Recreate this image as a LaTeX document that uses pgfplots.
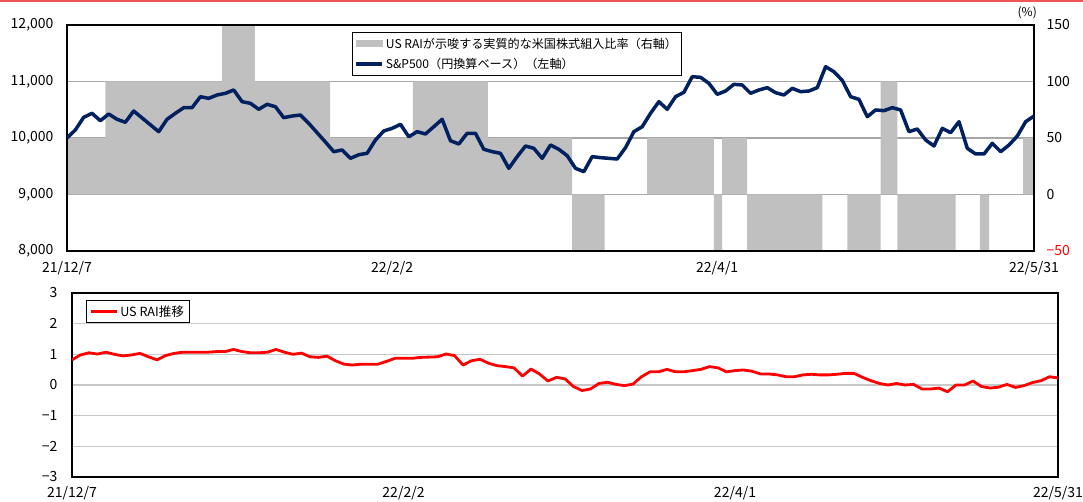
\documentclass[border=0pt]{standalone}
\usepackage{pgfplots}
\pgfplotsset{compat=1.18}
\usepackage{fontspec}
\setmainfont{Noto Sans CJK JP}
\definecolor{navy}{HTML}{002060}
\definecolor{bargray}{HTML}{C0C0C0}
\definecolor{gridgray}{HTML}{A6A6A6}
\definecolor{gridlight}{HTML}{C8C8C8}
\definecolor{topred}{HTML}{F25555}
\pgfplotsset{shortline/.style={legend image code/.code={\draw[##1] (0pt,0pt) -- (26pt,0pt);}}}
\begin{document}
\begin{tikzpicture}[x=1pt,y=1pt]
\useasboundingbox (0,0) rectangle (1083,501);
\fill[topred] (0,499) rectangle (1083,501);

% ---------- top panel: right axis (bars) ----------
\begin{axis}[
  at={(67pt,250pt)}, anchor=south west, scale only axis,
  width=967pt, height=226pt,
  xmin=0, xmax=116, ymin=-50, ymax=150,
  axis x line=none, axis y line*=right,
  ytick={-50,0,50,100,150},
  yticklabels={\textcolor{red}{−50},0,50,100,150},
  ymajorgrids, grid style={gridgray, line width=1.2pt},
  major tick length=0pt,
  yticklabel style={font=\fontsize{14}{16}\selectfont, xshift=9pt, anchor=west},
  axis line style={line width=1.2pt, black},
  clip=false,
]
\addplot[ybar interval, fill=bargray, draw=none] coordinates {
(0,50) (4.6,100) (18.6,150) (22.55,100) (31.55,50) (41.5,100) (50.5,50)
(60.6,-50) (64.5,0) (69.6,50) (77.6,-50) (78.6,50) (81.6,-50) (90.6,0)
(93.6,-50) (97.6,100) (99.6,-50) (106.6,0) (109.5,-50) (110.6,0) (114.7,50) (116,50)
};
\node[anchor=south, font=\fontsize{12}{14}\selectfont, inner sep=0pt] at (rel axis cs:0.993,1.025) {(\%)};
\end{axis}

% ---------- top panel: left axis (line) ----------
\begin{axis}[
  at={(67pt,250pt)}, anchor=south west, scale only axis,
  width=967pt, height=226pt,
  xmin=0, xmax=116, ymin=8000, ymax=12000,
  scaled y ticks=false,
  ytick={8000,9000,10000,11000,12000},
  yticklabels={{8,000},{9,000},{10,000},{11,000},{12,000}},
  xtick={0,39,78,116},
  xticklabels={21/12/7,22/2/2,22/4/1,22/5/31},
  major tick length=0pt,
  yticklabel style={font=\fontsize{14}{16}\selectfont, xshift=-10pt},
  xticklabel style={font=\fontsize{14}{16}\selectfont, yshift=-7pt},
  axis line style={line width=1.2pt, black},
  legend style={at={(0.2947,0.969)}, anchor=north west, draw=black, line width=0.9pt,
    font=\fontsize{12.1}{14}\selectfont, inner xsep=2pt, inner ysep=3.5pt, row sep=4.5pt,
    legend cell align=left},
]
\addlegendimage{legend image code/.code={\fill[bargray] (0pt,-3pt) rectangle (26pt,3pt);}}
\addlegendentry{US RAIが示唆する実質的な米国株式組入比率（右軸）}
\addplot[navy, line width=3.5pt, line join=round, shortline] coordinates {
(0,10000) (1,10142) (2,10366) (3,10437) (4,10306) (5,10425) (6,10331) (7,10278)
(8,10478) (9,10356) (10,10234) (11,10112) (12,10331) (13,10437) (14,10536) (15,10536)
(16,10731) (17,10702) (18,10761) (19,10791) (20,10850) (21,10643) (22,10614) (23,10508)
(24,10596) (25,10554) (26,10360) (27,10389) (28,10407) (29,10260) (30,10094) (31,9929)
(32,9758) (33,9788) (34,9640) (35,9704) (36,9729) (37,9965) (38,10124) (39,10171)
(40,10242) (41,10023) (42,10112) (43,10071) (44,10200) (45,10331) (46,9952) (47,9894)
(48,10083) (49,10083) (50,9800) (51,9758) (52,9729) (53,9463) (54,9670) (55,9858)
(56,9817) (57,9640) (58,9876) (59,9800) (60,9687) (61,9463) (62,9404) (63,9670)
(64,9652) (65,9640) (66,9628) (67,9829) (68,10112) (69,10200) (70,10437) (71,10643)
(72,10508) (73,10731) (74,10809) (75,11085) (76,11074) (77,10968) (78,10773) (79,10832)
(80,10950) (81,10938) (82,10791) (83,10850) (84,10891) (85,10802) (86,10761) (87,10879)
(88,10820) (89,10832) (90,10891) (91,11262) (92,11173) (93,11020) (94,10731) (95,10684)
(96,10377) (97,10496) (98,10484) (99,10537) (100,10496) (101,10112) (102,10159) (103,9965)
(104,9858) (105,10171) (106,10094) (107,10289) (108,9817) (109,9717) (110,9717) (111,9906)
(112,9758) (113,9876) (114,10035) (115,10289) (116,10389)
};
\addlegendentry{S\&P500（円換算ベース）（左軸）}
\end{axis}

% ---------- bottom panel ----------
\begin{axis}[
  at={(72pt,24pt)}, anchor=south west, scale only axis,
  width=986pt, height=184pt,
  xmin=0, xmax=116, ymin=-3, ymax=3,
  ytick={-3,-2,-1,0,1,2,3},
  yticklabels={−3,−2,−1,0,1,2,3},
  xtick={0,39,78,116},
  xticklabels={21/12/7,22/2/2,22/4/1,22/5/31},
  ymajorgrids, grid style={gridlight, line width=1.4pt},
  major tick length=0pt,
  yticklabel style={font=\fontsize{14}{16}\selectfont, xshift=-11pt},
  xticklabel style={font=\fontsize{14}{16}\selectfont, yshift=-6pt},
  axis line style={line width=1.6pt, black},
  legend style={at={(0.0142,0.962)}, anchor=north west, draw=black, line width=0.9pt,
    font=\fontsize{12.6}{14}\selectfont, inner xsep=3pt, inner ysep=3pt,
    legend cell align=left},
]
\addplot[red, line width=2.8pt, line join=round, shortline] coordinates {
(0,0.82) (1,0.98) (2,1.05) (3,1.01) (4,1.07) (5,1.00) (6,0.95) (7,0.98)
(8,1.03) (9,0.92) (10,0.82) (11,0.96) (12,1.03) (13,1.07) (14,1.07) (15,1.07)
(16,1.07) (17,1.09) (18,1.09) (19,1.16) (20,1.09) (21,1.05) (22,1.05) (23,1.07)
(24,1.16) (25,1.07) (26,1.00) (27,1.04) (28,0.92) (29,0.90) (30,0.94) (31,0.79)
(32,0.68) (33,0.65) (34,0.68) (35,0.68) (36,0.68) (37,0.77) (38,0.87) (39,0.87)
(40,0.87) (41,0.90) (42,0.91) (43,0.92) (44,1.01) (45,0.96) (46,0.65) (47,0.79)
(48,0.84) (49,0.71) (50,0.63) (51,0.60) (52,0.56) (53,0.29) (54,0.52) (55,0.36)
(56,0.13) (57,0.25) (58,0.20) (59,-0.05) (60,-0.18) (61,-0.13) (62,0.05) (63,0.09)
(64,0.02) (65,-0.02) (66,0.03) (67,0.27) (68,0.43) (69,0.43) (70,0.51) (71,0.43)
(72,0.43) (73,0.47) (74,0.51) (75,0.60) (76,0.56) (77,0.43) (78,0.47) (79,0.49)
(80,0.45) (81,0.36) (82,0.36) (83,0.33) (84,0.27) (85,0.27) (86,0.33) (87,0.35)
(88,0.33) (89,0.33) (90,0.35) (91,0.38) (92,0.38) (93,0.25) (94,0.14) (95,0.05)
(96,0.00) (97,0.05) (98,0.00) (99,0.02) (100,-0.13) (101,-0.13) (102,-0.10) (103,-0.22)
(104,0.00) (105,0.00) (106,0.13) (107,-0.05) (108,-0.10) (109,-0.07) (110,0.02) (111,-0.08)
(112,-0.02) (113,0.08) (114,0.14) (115,0.27) (116,0.23)
};
\addlegendentry{US RAI推移}
\end{axis}
\end{tikzpicture}
\end{document}
